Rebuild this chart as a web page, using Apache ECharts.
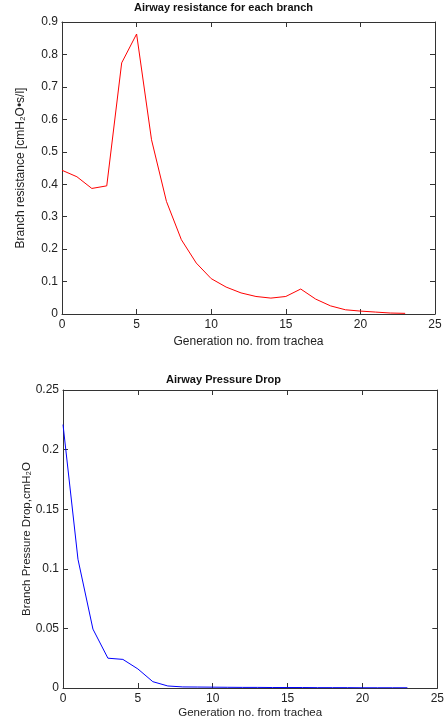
<!DOCTYPE html>
<html>
<head>
<meta charset="utf-8">
<script src="https://cdn.jsdelivr.net/npm/echarts@6/dist/echarts.min.js"></script>
<style>
html,body{margin:0;padding:0;background:#fff;}
#chart{width:447px;height:724px;}
</style>
</head>
<body>
<div id="chart"></div>
<script>
const generations = [0,1,2,3,4,5,6,7,8,9,10,11,12,13,14,15,16,17,18,19,20,21,22,23];
const resistance = [0.443,0.423,0.387,0.395,0.774,0.863,0.537,0.347,0.229,0.157,0.109,0.083,0.065,0.054,0.049,0.054,0.077,0.046,0.025,0.013,0.009,0.006,0.003,0.002];
const pressureDrop = [0.221,0.108,0.0494,0.025,0.024,0.016,0.0053,0.0017,0.0009,0.0008,0.0007,0.0006,0.0005,0.0005,0.0004,0.0004,0.0004,0.0003,0.0003,0.0003,0.0002,0.0002,0.0002,0.0002];
const xTicks = {min:0, max:25, interval:5};
const topTitle = 'Airway resistance for each branch';
const bottomTitle = 'Airway Pressure Drop';
const xName = 'Generation no. from trachea';
const yNameTop = 'Branch resistance [cmH₂O•s/l]';
const yNameBottom = 'Branch Pressure Drop,cmH₂O';

const FONT = '"Liberation Sans", Arial, sans-serif';
const TXT = '#222';
const LINE = '#333';

function pairs(xs, ys){ return xs.map((x,i)=>[x, ys[i]]); }

function xAxisMain(gridIndex, fs, gap){
  return {
    type:'value', gridIndex, min:xTicks.min, max:xTicks.max, interval:xTicks.interval,
    name:xName, nameLocation:'middle', nameGap:gap, nameMoveOverlap:false,
    nameTextStyle:{color:TXT, fontFamily:FONT, fontSize:fs},
    axisLine:{show:true, onZero:false, lineStyle:{color:LINE, width:1}},
    axisTick:{show:true, inside:true, length:5, lineStyle:{color:LINE}},
    axisLabel:{color:TXT, fontFamily:FONT, fontSize:12, margin:5},
    splitLine:{show:false}
  };
}
function xAxisTop(gridIndex){
  return {
    type:'value', gridIndex, position:'top', min:xTicks.min, max:xTicks.max, interval:xTicks.interval,
    axisLine:{show:true, onZero:false, lineStyle:{color:LINE, width:1}},
    axisTick:{show:true, inside:true, length:5, lineStyle:{color:LINE}},
    axisLabel:{show:false}, splitLine:{show:false}
  };
}
function yAxisMain(gridIndex, max, interval, name, gap, fs){
  return {
    type:'value', gridIndex, min:0, max, interval,
    name, nameLocation:'middle', nameGap:gap, nameRotate:90, nameMoveOverlap:false,
    nameTextStyle:{color:TXT, fontFamily:FONT, fontSize:fs},
    axisLine:{show:true, onZero:false, lineStyle:{color:LINE, width:1}},
    axisTick:{show:true, inside:true, length:5, lineStyle:{color:LINE}},
    axisLabel:{color:TXT, fontFamily:FONT, fontSize:12, margin:4},
    splitLine:{show:false}
  };
}
function yAxisRight(gridIndex, max, interval){
  return {
    type:'value', gridIndex, position:'right', min:0, max, interval,
    axisLine:{show:true, onZero:false, lineStyle:{color:LINE, width:1}},
    axisTick:{show:true, inside:true, length:5, lineStyle:{color:LINE}},
    axisLabel:{show:false}, splitLine:{show:false}
  };
}

const chart = echarts.init(document.getElementById('chart'), null, {renderer:'canvas'});
chart.setOption({
  animation:false,
  backgroundColor:'#fff',
  title:[
    {text:topTitle, left:'center', top:2, padding:0, textStyle:{fontFamily:FONT, fontSize:11, fontWeight:'bold', color:'#111'}},
    {text:bottomTitle, left:'center', top:374, padding:0, textStyle:{fontFamily:FONT, fontSize:11, fontWeight:'bold', color:'#111'}}
  ],
  grid:[
    {left:62, right:12, top:22, height:292},
    {left:63, right:7, top:390, height:298}
  ],
  xAxis:[xAxisMain(0,12,22), xAxisTop(0), xAxisMain(1,11.5,19), xAxisTop(1)],
  yAxis:[
    yAxisMain(0, 0.9, 0.1, yNameTop, 35, 12), yAxisRight(0, 0.9, 0.1),
    yAxisMain(1, 0.25, 0.05, yNameBottom, 30, 11.5), yAxisRight(1, 0.25, 0.05)
  ],
  series:[
    {type:'line', xAxisIndex:0, yAxisIndex:0, data:pairs(generations, resistance), showSymbol:false, symbol:'none',
     lineStyle:{color:'#ff0000', width:1}},
    {type:'line', xAxisIndex:2, yAxisIndex:2, data:pairs(generations, pressureDrop), showSymbol:false, symbol:'none',
     lineStyle:{color:'#0000ff', width:1}}
  ]
});
</script>
</body>
</html>
